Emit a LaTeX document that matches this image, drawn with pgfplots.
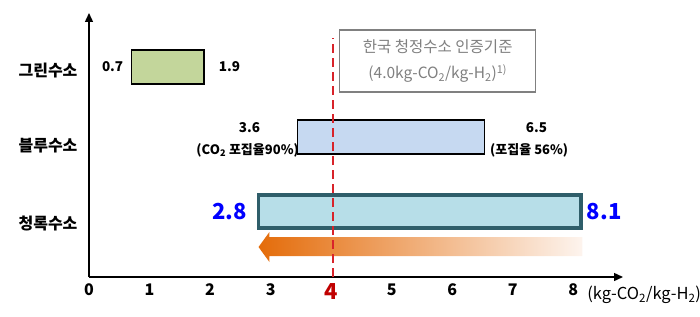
\documentclass[border=0pt]{standalone}
\usepackage{fontspec}
\setmainfont{Noto Sans CJK KR}
\usepackage{pgfplots}
\pgfplotsset{compat=1.18}
\usetikzlibrary{arrows.meta}
\definecolor{greenfill}{HTML}{C3D69B}
\definecolor{bluefill}{HTML}{C6D9F1}
\definecolor{tealfill}{HTML}{B7DEE8}
\definecolor{tealedge}{HTML}{2F5E6A}
\definecolor{orangeA}{HTML}{E46C0A}
\definecolor{orangeB}{HTML}{F5B37F}
\definecolor{orangeC}{HTML}{FDF4EE}
\definecolor{dashred}{HTML}{D8232A}
\definecolor{tickred}{HTML}{C00000}
\definecolor{boxgray}{HTML}{808080}
\begin{document}
\begin{tikzpicture}[x=1pt,y=1pt]
\path[use as bounding box] (0,0) rectangle (700,316);
\begin{axis}[
  at={(89pt,39pt)}, anchor=south west,
  scale only axis, width=534pt, height=264pt,
  xmin=0, xmax=8.82, ymin=0, ymax=264,
  clip=false,
  axis lines=left,
  axis line style={line width=1.4pt, -{Triangle[length=9pt,width=8pt]}},
  major tick length=0,
  xtick={0,1,2,3,4,5,6,7,8},
  xticklabels={0,1,2,3,{\textcolor{tickred}{\fontsize{22}{22}\selectfont 4}},5,6,7,8},
  xticklabel style={font=\bfseries\fontsize{16}{16}\selectfont, anchor=north, yshift=-3pt},
  ytick={54,131,206},
  yticklabels={청록수소,블루수소,그린수소},
  yticklabel style={font=\bfseries\fontsize{16}{16}\selectfont, anchor=east, xshift=-8pt},
]
% arrow with gradient
\addplot[draw=none, left color=orangeA, middle color=orangeB, right color=orangeC]
  coordinates {(2.80,30) (2.98,45) (2.98,40) (8.15,40) (8.15,21) (2.98,21) (2.98,15)} -- cycle;
% bars
\addplot[draw=black, line width=1.2pt, fill=greenfill]
  coordinates {(0.7,193) (1.9,193) (1.9,227) (0.7,227)} -- cycle;
\addplot[draw=black, line width=1.2pt, fill=bluefill]
  coordinates {(3.44,123) (6.53,123) (6.53,157) (3.44,157)} -- cycle;
\addplot[draw=tealedge, line width=3.5pt, fill=tealfill]
  coordinates {(2.80,49) (8.13,49) (8.13,82) (2.80,82)} -- cycle;
% threshold
\addplot[color=dashred, line width=1.4pt, dash pattern=on 9pt off 5pt]
  coordinates {(4.03,0) (4.03,239)};
% reference box
\node[draw=boxgray, line width=1.3pt, fill=white, minimum width=196pt, minimum height=62pt,
      align=center, text=boxgray, font=\fontsize{15.5}{26}\selectfont]
  at (axis cs:5.76,216) {한국 청정수소 인증기준\\(4.0kg-CO\textsubscript{2}/kg-H\textsubscript{2})\textsuperscript{1)}};
% value labels
\node[font=\bfseries\fontsize{13.5}{13.5}\selectfont] at (axis cs:0.39,210) {0.7};
\node[font=\bfseries\fontsize{13.5}{13.5}\selectfont] at (axis cs:2.32,210) {1.9};
\node[font=\bfseries\fontsize{13.5}{13.5}\selectfont] at (axis cs:2.65,149) {3.6};
\node[font=\bfseries\fontsize{13}{13}\selectfont] at (axis cs:2.62,127) {(CO\textsubscript{2} 포집율90\%)};
\node[font=\bfseries\fontsize{13.5}{13.5}\selectfont] at (axis cs:7.39,149) {6.5};
\node[font=\bfseries\fontsize{13}{13}\selectfont] at (axis cs:7.27,127) {(포집율 56\%)};
\node[font=\bfseries\fontsize{22}{22}\selectfont, text=blue] at (axis cs:2.32,65) {2.8};
\node[font=\bfseries\fontsize{22}{22}\selectfont, text=blue] at (axis cs:8.51,65) {8.1};
\node[font=\fontsize{16.5}{16.5}\selectfont] at (axis cs:9.17,-18) {(kg-CO\textsubscript{2}/kg-H\textsubscript{2})};
\end{axis}
\end{tikzpicture}
\end{document}
